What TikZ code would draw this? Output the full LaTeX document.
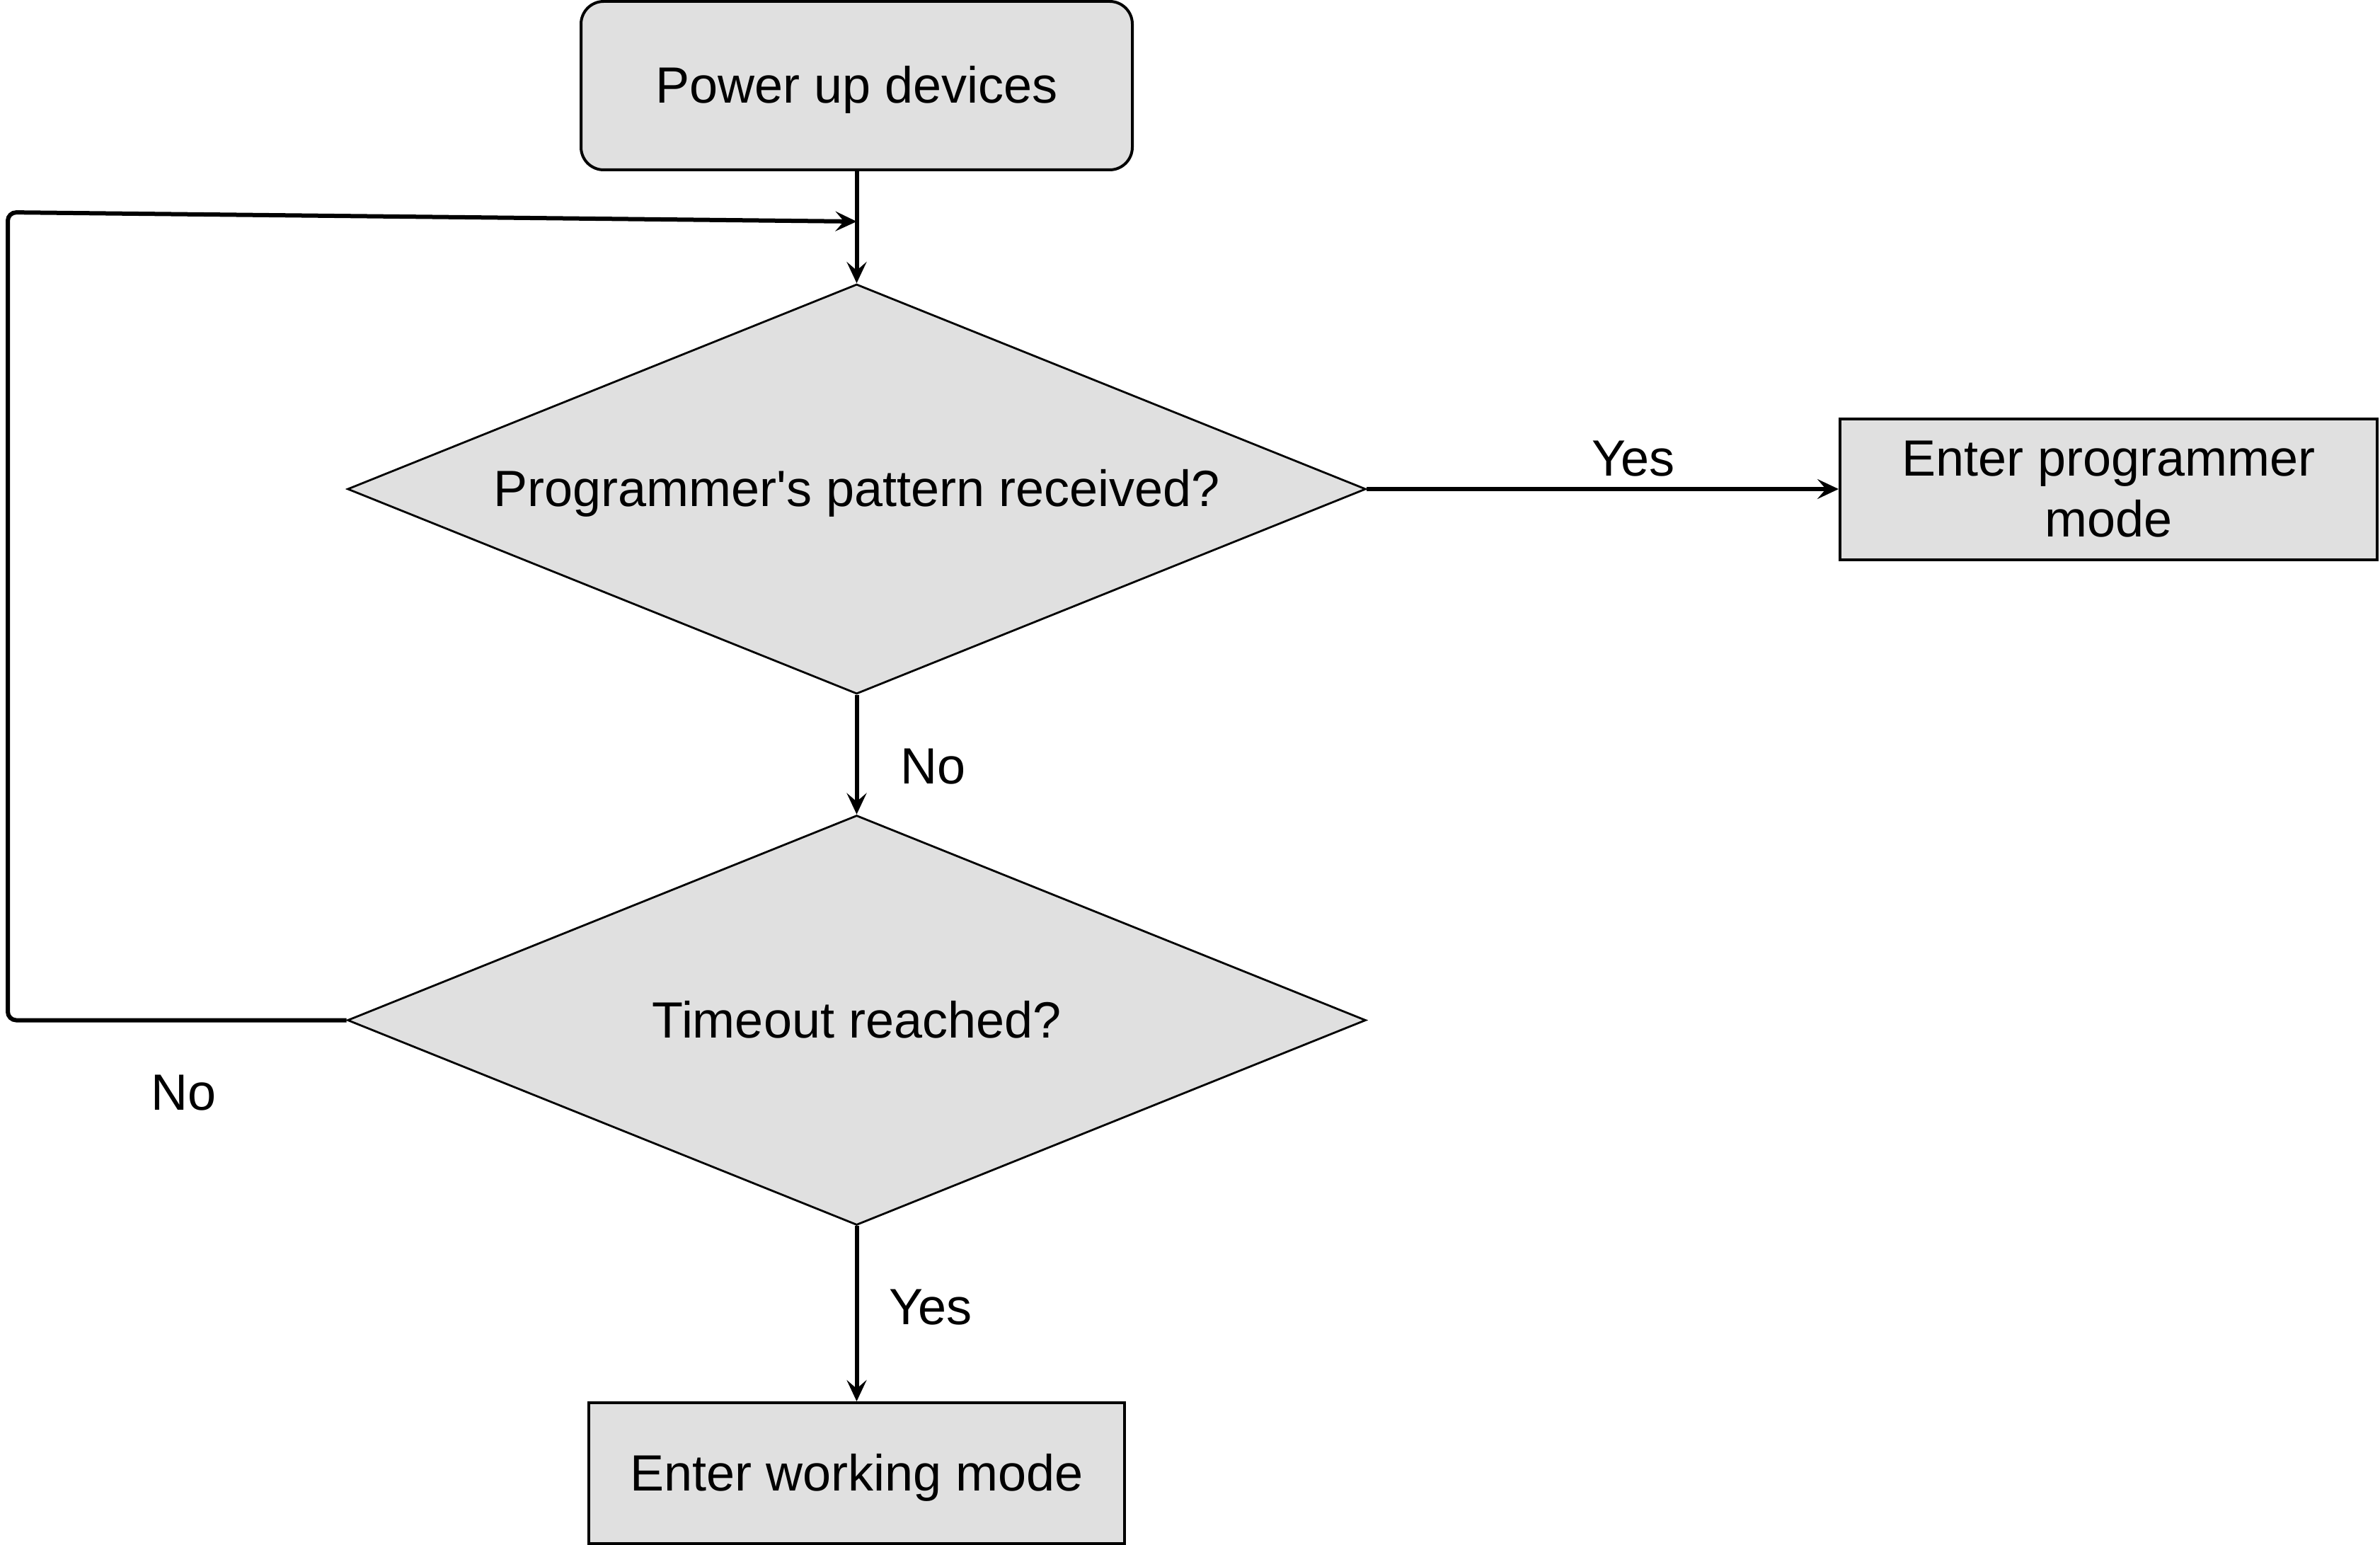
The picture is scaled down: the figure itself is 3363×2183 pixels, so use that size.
\documentclass[tikz,border=0pt]{standalone}
\usepackage{fontspec}
\newfontfamily\lsans{Liberation Sans}
\usetikzlibrary{shapes.geometric,arrows.meta}
\definecolor{boxfill}{RGB}{224,224,224}
\begin{document}
\begin{tikzpicture}[x=0.25pt,y=-0.25pt,
  every node/.style={font=\lsans\fontsize{18}{21.5}\selectfont},
  procbox/.style={draw, line width=1pt, fill=boxfill, inner sep=0pt, align=center},
  lowtext/.style={text height=16.2pt, text depth=3.8pt},
  decision/.style={draw, diamond, line width=0.7pt, fill=boxfill, inner sep=0pt,
    minimum width=359.75pt, minimum height=144.75pt, shape aspect=2.485},
  flow/.style={line width=1.5pt, -{Stealth[length=7.5pt,width=7pt,inset=3pt]}},
  lbl/.style={inner sep=0pt}]
\useasboundingbox (0,0) rectangle (3363,2183);
\node[procbox, lowtext, rounded corners=8pt, minimum width=194.75pt, minimum height=59.5pt] (power) at (1210.5,121) {Power up devices};
\node[decision, lowtext] (d1) at (1210.5,691) {Programmer's pattern received?};
\node[procbox, minimum width=189.75pt, minimum height=49.75pt] (prog) at (2979.5,691) {Enter programmer\\mode};
\node[decision, lowtext] (d2) at (1210.5,1441.5) {Timeout reached?};
\node[procbox, lowtext, minimum width=189.25pt, minimum height=49.75pt] (work) at (1210.5,2081.5) {Enter working mode};
\coordinate (j) at (1210.5,313);
\node[lbl] (yes1) at (2308,648) {Yes};
\node[lbl] (no1) at (1319,1083) {No};
\node[lbl] (no2) at (260,1544) {No};
\node[lbl] (yes2) at (1315,1847) {Yes};
\draw[flow] (power.south) -- (d1.north);
\draw[flow] (d1.east) -- (prog.west);
\draw[flow] (d1.south) -- (d2.north);
\draw[flow] (d2.south) -- (work.north);
\draw[flow, rounded corners=3pt] (d2.west) -- (11,1441.5) -- (11,300) -- (j);
\end{tikzpicture}
\end{document}
